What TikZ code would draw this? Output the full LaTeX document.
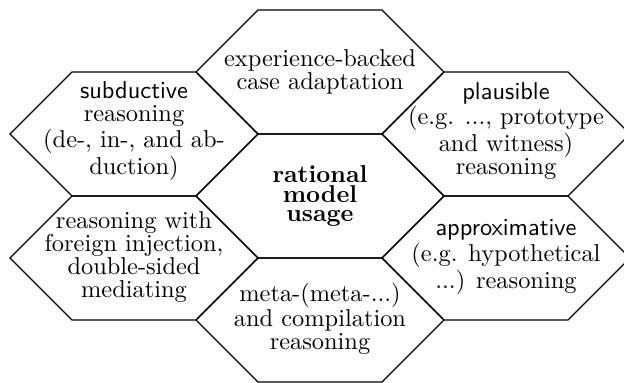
\documentclass[tikz,border=0pt]{standalone}
\begin{document}
\begin{tikzpicture}[x=0.41pt,y=-0.41pt,
  cell/.style={draw=black,line width=0.45pt,line join=miter},
  cellText/.style={align=center,inner sep=0pt,font=\fontsize{10}{9.4}\selectfont},
  coreText/.style={align=center,inner sep=0pt,font=\fontsize{10}{8}\selectfont\bfseries}]
\useasboundingbox (0,0) rectangle (624,383);

% honeycomb of flattened hexagons (half width 124, half height 62)
\foreach \cx/\cy in {134/134, 320/72, 506/134, 320/196, 134/258, 506/258, 320/320}{
  \draw[cell] (\cx-124,\cy) -- (\cx-62,\cy-62) -- (\cx+62,\cy-62)
    -- (\cx+124,\cy) -- (\cx+62,\cy+62) -- (\cx-62,\cy+62) -- cycle;
}

\node[coreText] (core) at (320,196) {rational\\model\\usage};
\node[cellText] (experience) at (320,72) {experience-backed\\case adaptation};
\node[cellText] (subductive) at (134,131) {\textsf{subductive}\\reasoning\\(de-, in-, and ab-\\duction)};
\node[cellText] (plausible) at (506,131) {\textsf{plausible}\\(e.g. ..., prototype\\and witness)\\reasoning};
\node[cellText] (foreign) at (134,257) {reasoning with\\foreign injection,\\double-sided\\mediating};
\node[cellText] (approx) at (506,257) {\textsf{approximative}\\(e.g. hypothetical\\...) reasoning};
\node[cellText] (meta) at (320,319) {meta-(meta-...)\\and compilation\\reasoning};
\end{tikzpicture}
\end{document}
